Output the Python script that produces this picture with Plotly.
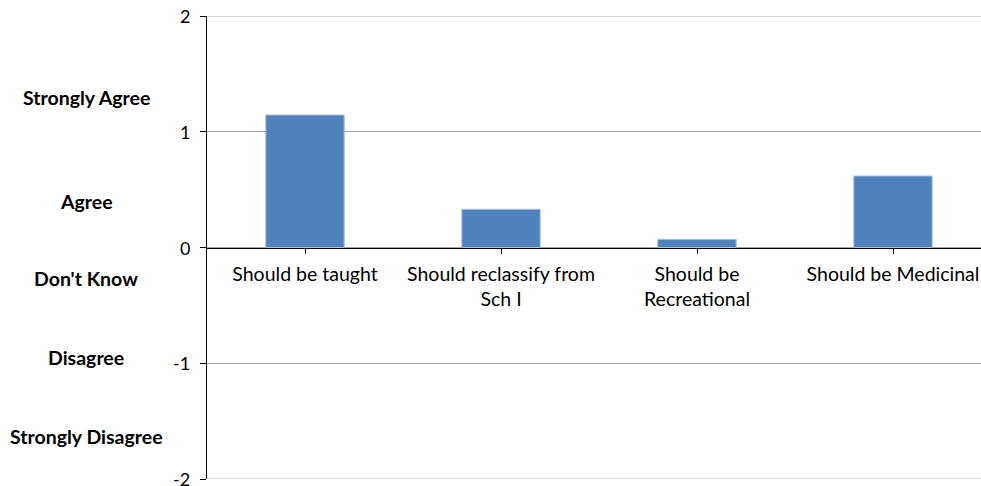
import plotly.graph_objects as go

categories = ["Should be taught", "Should reclassify from<br>Sch I", "Should be<br>Recreational", "Should be Medicinal"]
values = [1.145, 0.33, 0.071, 0.618]
y_ticks = [-2, -1, 0, 1, 2]
scale_labels = ["Strongly Agree", "Agree", "Don't Know", "Disagree", "Strongly Disagree"]
scale_label_y = [1.30, 0.40, -0.27, -0.95, -1.63]

FONT = "Lato, 'Open Sans', sans-serif"
FS = 19.5
GRID = "#a6a6a6"

fig = go.Figure()
fig.add_trace(go.Bar(
    x=list(range(len(categories))),
    y=values,
    width=0.4,
    marker=dict(color="#4f81bd", line=dict(color="#a9c0de", width=1)),
    showlegend=False,
    hoverinfo="skip",
))

for lab, yv in zip(scale_labels, scale_label_y):
    fig.add_annotation(
        text="<b>%s</b>" % lab, xref="paper", yref="y",
        x=-0.1563, y=yv, showarrow=False, xanchor="center", yanchor="middle",
        font=dict(family=FONT, size=FS, color="#000000"),
    )

# y tick labels as text (so the bottom one is not dropped)
for v in y_ticks:
    fig.add_annotation(
        text=str(v), xref="paper", yref="y",
        x=-0.0195, y=v, showarrow=False, xanchor="right", yanchor="middle",
        font=dict(family=FONT, size=18, color="#000000"),
    )

# gridlines at the range ends
for v in (y_ticks[0], y_ticks[-1]):
    fig.add_shape(type="line", xref="paper", yref="y", x0=0, x1=1, y0=v, y1=v,
                  line=dict(color=GRID, width=1), layer="below")

fig.update_layout(
    width=981, height=486,
    margin=dict(l=207, r=0, t=16, b=7),
    paper_bgcolor="white", plot_bgcolor="white",
    font=dict(family=FONT, size=FS, color="#000000"),
    xaxis=dict(
        range=[-0.5, 3.449],
        tickmode="array",
        tickvals=list(range(len(categories))),
        ticktext=categories,
        tickson="boundaries",
        ticks="outside", ticklen=5, tickcolor="#000000", tickwidth=1,
        showline=True, linecolor="#000000", linewidth=1,
        showgrid=False, zeroline=False,
        anchor="free", position=0.5,
        ticklabelstandoff=4,
        fixedrange=True,
    ),
    yaxis=dict(
        range=[-2, 2],
        tickmode="array", tickvals=y_ticks,
        showticklabels=False,
        ticks="outside", ticklen=6, tickcolor="#000000",
        showline=True, linecolor="#000000", linewidth=1,
        showgrid=True, gridcolor=GRID, gridwidth=1,
        zeroline=False,
        fixedrange=True,
    ),
    bargap=0.6,
)

fig.write_html("out.html")
